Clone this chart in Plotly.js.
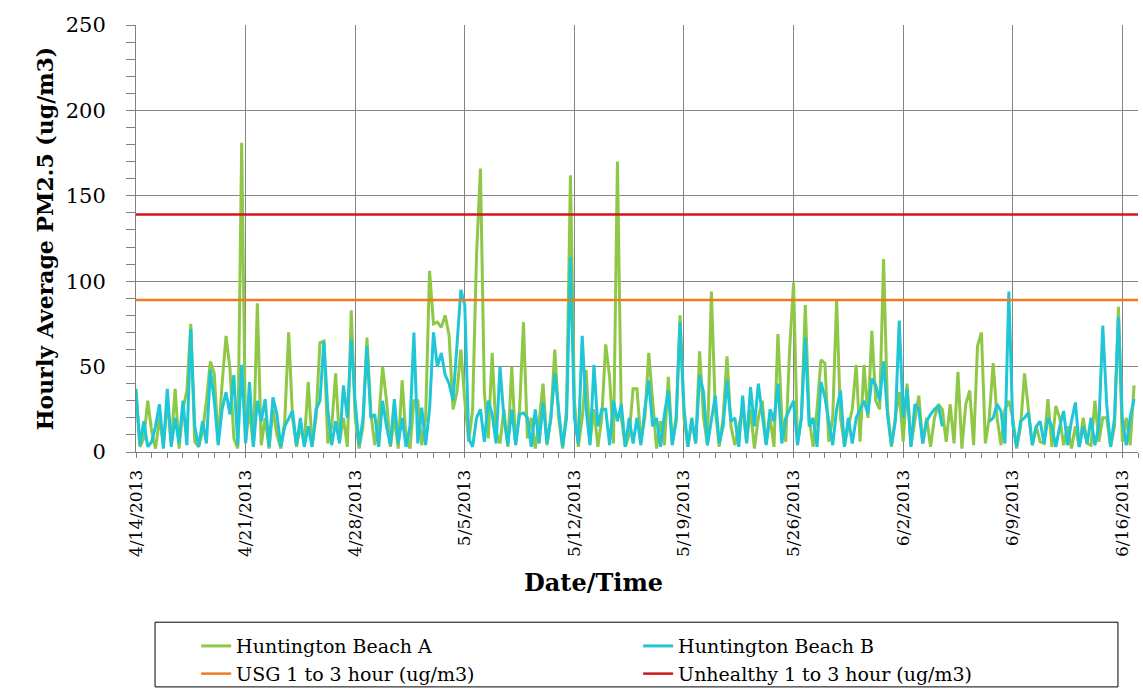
<!DOCTYPE html>
<html>
<head>
<meta charset="utf-8">
<script src="https://cdn.plot.ly/plotly-3.0.1.min.js"></script>
<style>
  html, body { margin: 0; padding: 0; background: #ffffff; }
  #chart { width: 1143px; height: 698px; }
</style>
</head>
<body>
<div id="chart"></div>
<script>
// ---- DATA (4 readings per day, every 6 hours, starting 4/14/2013 00:00) ----
const seriesStart = '2013-04-14T00:00:00Z';
const stepHours = 6;

const siteA = [
  34,3,8,30,    12,2,20,4,    30,5,37,2,    25,36,75,6,   3,12,30,53,
  46,6,40,68,   49,8,2,181,   6,25,3,87,    4,20,2,25,    10,2,18,70,
  20,3,15,5,    41,4,20,64,   65,5,15,46,   6,20,3,83,    20,2,15,67,
  23,4,18,50,   30,3,20,2,    42,8,2,30,    30,4,20,106,  75,76,73,80,
  68,25,35,60,  30,6,25,115,  166,35,8,58,  12,5,25,3,    50,4,25,76,
  8,20,2,18,    40,4,20,60,   20,2,25,162,  30,3,20,48,   6,25,3,20,
  63,44,5,170,  20,3,10,37,   37,6,20,58,   30,2,18,4,    44,6,20,80,
  20,3,18,5,    59,20,4,94,   25,3,20,56,   15,4,15,25,   6,25,2,20,
  30,5,20,3,    69,20,6,60,   99,5,20,86,   20,3,25,54,   52,6,20,89,
  20,4,15,25,   51,6,51,20,   71,30,25,113, 25,3,20,35,   6,40,4,20,
  33,5,20,3,    20,28,25,6,   28,5,47,2,    28,36,4,62,   70,5,20,52,
  20,4,25,30,   20,2,15,46,   25,4,15,6,    5,31,3,27,    20,4,15,2,
  15,3,20,5,    4,30,6,20,    20,3,15,85,   6,20,4,39
];

const siteB = [
  37,4,18,3,    6,15,28,2,    37,3,20,5,    30,4,72,15,   3,18,5,48,
  30,4,25,35,   22,45,4,51,   5,41,3,30,    18,31,3,32,   22,3,15,20,
  24,4,20,3,    15,3,25,30,   65,25,4,18,   5,39,20,66,   29,4,20,62,
  20,22,3,30,   15,4,31,5,    20,3,15,70,   5,26,4,25,    70,50,58,45,
  40,30,62,95,  86,8,3,20,    25,6,30,22,   5,50,20,4,    25,4,22,23,
  20,3,25,5,    29,5,20,46,   24,3,20,114,  20,5,68,25,   4,51,15,25,
  25,4,30,18,   28,3,20,5,    20,4,25,42,   15,20,3,22,   36,4,18,76,
  26,3,20,5,    45,35,4,20,   33,5,15,42,   18,20,3,33,   5,38,15,40,
  22,4,25,18,   40,5,20,25,   30,4,20,67,   15,20,3,41,   32,18,4,25,
  36,3,20,5,    20,25,30,22,  43,39,30,53,  22,4,18,77,   20,37,3,28,
  25,5,18,22,   25,27,15,null, null,null,null,null, null,null,null,null, null,null,18,20,
  28,24,5,94,   16,3,18,20,   23,4,15,18,   5,20,15,3,    15,24,4,18,
  29,3,15,5,    20,4,15,74,   28,3,20,79,   19,4,20,31
];

const usgLevel = 89;        // USG 1 to 3 hour (ug/m3)
const unhealthyLevel = 139; // Unhealthy 1 to 3 hour (ug/m3)
const axisStart = '2013-04-14';
const axisEnd = '2013-06-17';

const seriesNames = ['Huntington Beach A', 'Huntington Beach B',
                     'USG 1 to 3 hour (ug/m3)', 'Unhealthy 1 to 3 hour (ug/m3)'];

// ---- build time stamps ----
function pad(n) { return (n < 10 ? '0' : '') + n; }
function stamp(i) {
  const d = new Date(Date.parse(seriesStart) + i * stepHours * 3600000);
  return d.getUTCFullYear() + '-' + pad(d.getUTCMonth() + 1) + '-' + pad(d.getUTCDate()) +
         ' ' + pad(d.getUTCHours()) + ':00';
}
const timesA = siteA.map((v, i) => stamp(i));
const timesB = siteB.map((v, i) => stamp(i));

const serif = 'DejaVu Serif, Liberation Serif, serif';

const traces = [
  { x: timesA, y: siteA, type: 'scatter', mode: 'lines', name: seriesNames[0],
    line: { color: '#8fc846', width: 3 }, connectgaps: false },
  { x: timesB, y: siteB, type: 'scatter', mode: 'lines', name: seriesNames[1],
    line: { color: '#1ec6d6', width: 3 }, connectgaps: false },
  { x: [axisStart, axisEnd], y: [usgLevel, usgLevel], type: 'scatter', mode: 'lines',
    name: seriesNames[2], line: { color: '#ee7a22', width: 2.5 } },
  { x: [axisStart, axisEnd], y: [unhealthyLevel, unhealthyLevel], type: 'scatter', mode: 'lines',
    name: seriesNames[3], line: { color: '#d0161e', width: 2.5 } }
];

const layout = {
  width: 1143, height: 698,
  margin: { l: 136, r: 5, t: 25, b: 244 },
  paper_bgcolor: '#ffffff', plot_bgcolor: '#ffffff',
  showlegend: true,
  xaxis: {
    type: 'date',
    range: [axisStart, axisEnd],
    tick0: axisStart, dtick: 7 * 86400000,
    tickformat: '%-m/%-d/%Y', tickangle: -90,
    tickfont: { family: serif, size: 17, color: '#000' },
    ticks: 'outside', ticklen: 5, tickcolor: '#808080',
    ticklabelstandoff: 5,
    minor: { dtick: 86400000, ticks: 'outside', ticklen: 5, tickcolor: '#808080', showgrid: false },
    showgrid: true, gridcolor: '#858585', gridwidth: 1,
    showline: true, linecolor: '#808080', linewidth: 1,
    zeroline: false, fixedrange: true
  },
  yaxis: {
    range: [0, 250], dtick: 50, tick0: 0,
    tickfont: { family: serif, size: 21, color: '#000' },
    ticks: 'outside', ticklen: 9, tickcolor: '#808080',
    ticklabelstandoff: 16,
    minor: { dtick: 10, ticks: 'outside', ticklen: 9, tickcolor: '#808080', showgrid: false },
    showgrid: true, gridcolor: '#858585', gridwidth: 1,
    showline: true, linecolor: '#808080', linewidth: 1,
    zeroline: false, fixedrange: true,
    title: { text: 'Hourly Average PM2.5 (ug/m3)', standoff: 6,
             font: { family: serif, size: 22, color: '#000', weight: 'bold' } }
  },
  legend: {
    orientation: 'h', x: 0.06, xanchor: 'left', y: -0.41, yanchor: 'top',
    entrywidth: 397, entrywidthmode: 'pixels', traceorder: 'normal',
    font: { family: serif, size: 19, color: '#000' },
    bgcolor: 'rgba(0,0,0,0)', borderwidth: 0
  },
  annotations: [
    { text: '<b>Date/Time</b>', xref: 'paper', yref: 'paper', x: 0.457, y: -0.305,
      xanchor: 'center', yanchor: 'middle', showarrow: false,
      font: { family: serif, size: 24, color: '#000' } }
  ],
  shapes: [
    { type: 'rect', xref: 'paper', yref: 'paper', x0: 0.019, x1: 0.980, y0: -0.3986, y1: -0.5501,
      line: { color: '#000000', width: 1 }, fillcolor: 'rgba(0,0,0,0)', layer: 'above' }
  ]
};

Plotly.newPlot('chart', traces, layout, { displayModeBar: false, staticPlot: true });
</script>
</body>
</html>
